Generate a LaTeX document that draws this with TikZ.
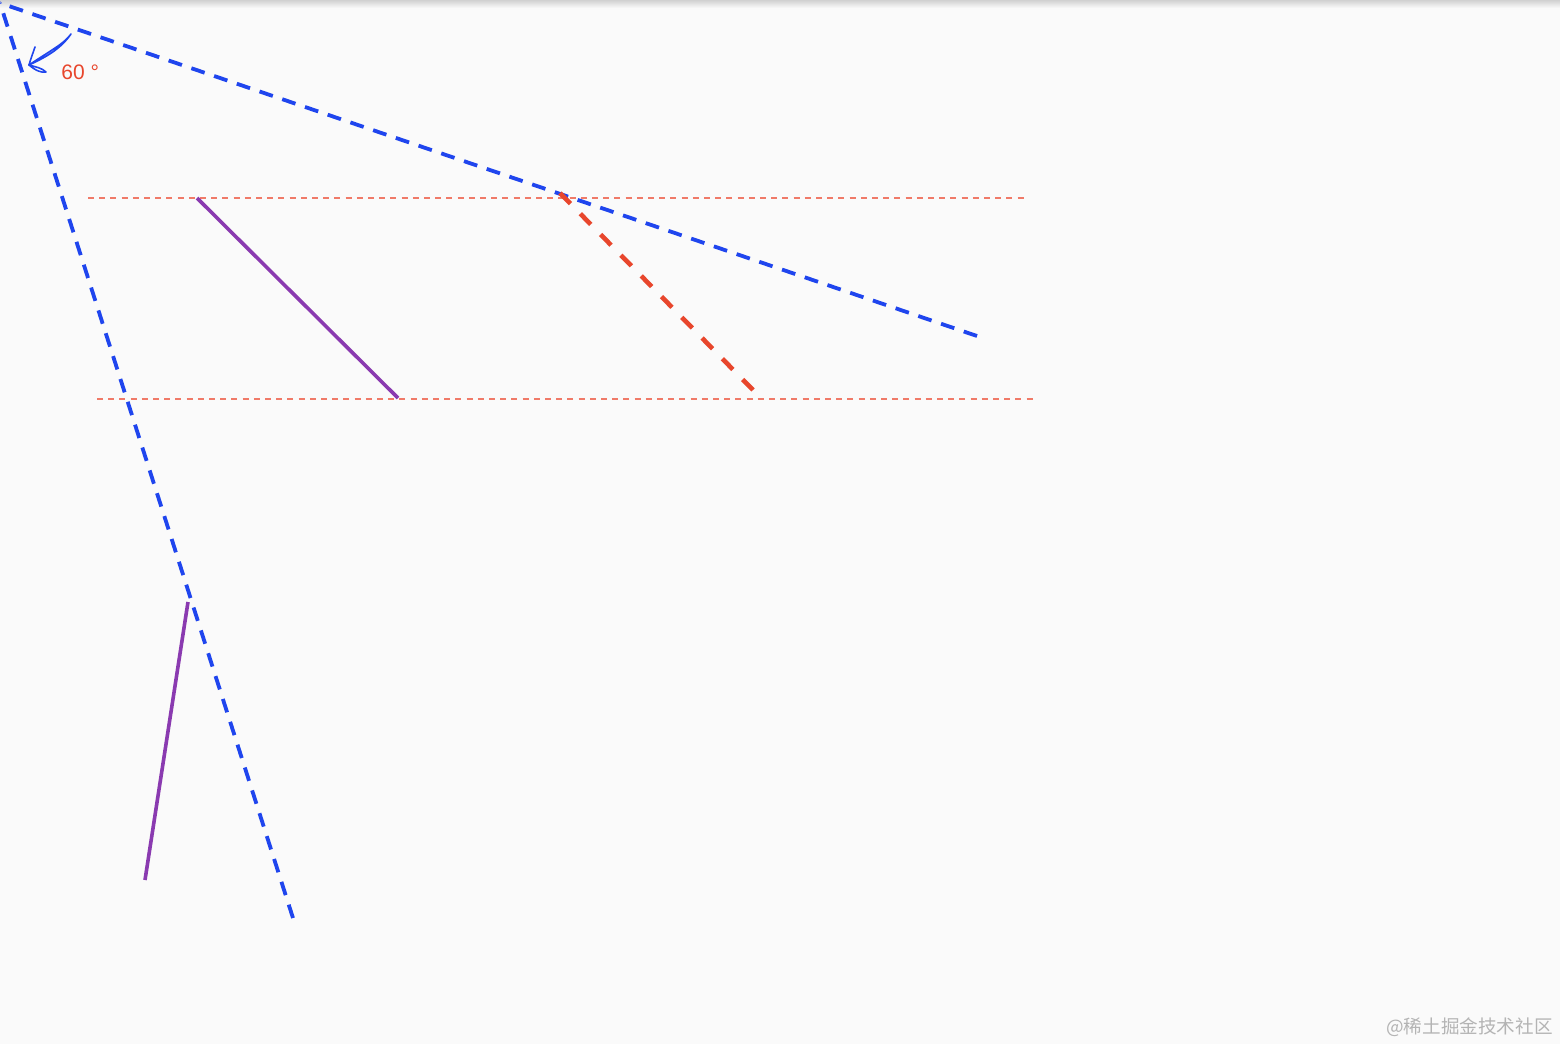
\documentclass[tikz,border=0pt]{standalone}
\usepackage{fontspec}
\setmainfont{Liberation Sans}
\newfontfamily\cjk{Noto Sans CJK SC}
\definecolor{bg}{HTML}{FAFAFA}
\definecolor{lblue}{HTML}{1F45EE}
\definecolor{lred}{HTML}{F07A68}
\definecolor{dred}{HTML}{E8462C}
\definecolor{lpurple}{HTML}{8A3AB0}
\definecolor{wm}{HTML}{B4B4B4}
\tikzset{
  blueray/.style={lblue, line width=1.9pt, dash pattern=on 7pt off 5pt},
  guide/.style={lred, line width=0.7pt, dash pattern=on 3pt off 2.6pt},
  redray/.style={dred, line width=2.3pt, dash pattern=on 7.5pt off 7pt},
  seg/.style={lpurple, line width=1.8pt},
  sketch/.style={lblue, line width=0.8pt, line join=round, line cap=round}
}
\begin{document}
\begin{tikzpicture}[x=0.5pt,y=-0.5pt]
\fill[bg] (0,0) rectangle (1560,1044);
\useasboundingbox (0,0) rectangle (1560,1044);
\shade[top color=black!18, bottom color=bg] (0,0) rectangle (1560,8);
% coordinates
\coordinate (O) at (0,3);
\coordinate (A) at (977,336);
\coordinate (B) at (293,918);
\coordinate (g1a) at (88,198);
\coordinate (g1b) at (1025,198);
\coordinate (g2a) at (97,399);
\coordinate (g2b) at (1034,399);
\coordinate (p1a) at (197,198);
\coordinate (p1b) at (398,398);
\coordinate (r1a) at (560,193);
\coordinate (r1b) at (753,390);
\coordinate (p2a) at (188,602);
\coordinate (p2b) at (145,880);
% guides
\draw[guide] (g1a) -- (g1b);
\draw[guide] (g2a) -- (g2b);
% rays
\draw[blueray] (A) -- (O);
\draw[blueray] (B) -- (O);
\draw[redray] (r1a) -- (r1b);
% purple segments
\draw[seg] (p1a) -- (p1b);
\draw[seg] (p2a) -- (p2b);
% hand-drawn arrow
\coordinate (tip) at (29,65);
\coordinate (tail) at (71,34);
\draw[sketch, fill=lblue!15] (tail) .. controls (60,50) and (44,58) .. (tip) .. controls (48,52) and (64,44) .. (tail);
\draw[sketch] (tip) .. controls (31,58) and (33,53) .. (35,47);
\draw[sketch] (tip) .. controls (36,71) and (42,73) .. (46,72) .. controls (42,68) and (36,67) .. (tip);
\node[text=dred, font=\fontsize{10.5}{12}\selectfont, anchor=west, inner sep=0pt] (lbl) at (61,72) {60 °};
% watermark
\node[text=wm, font=\cjk\fontsize{9.3}{10}\selectfont, anchor=east, inner sep=0pt] (wmk) at (1553,1027) {@稀土掘金技术社区};
\end{tikzpicture}
\end{document}
